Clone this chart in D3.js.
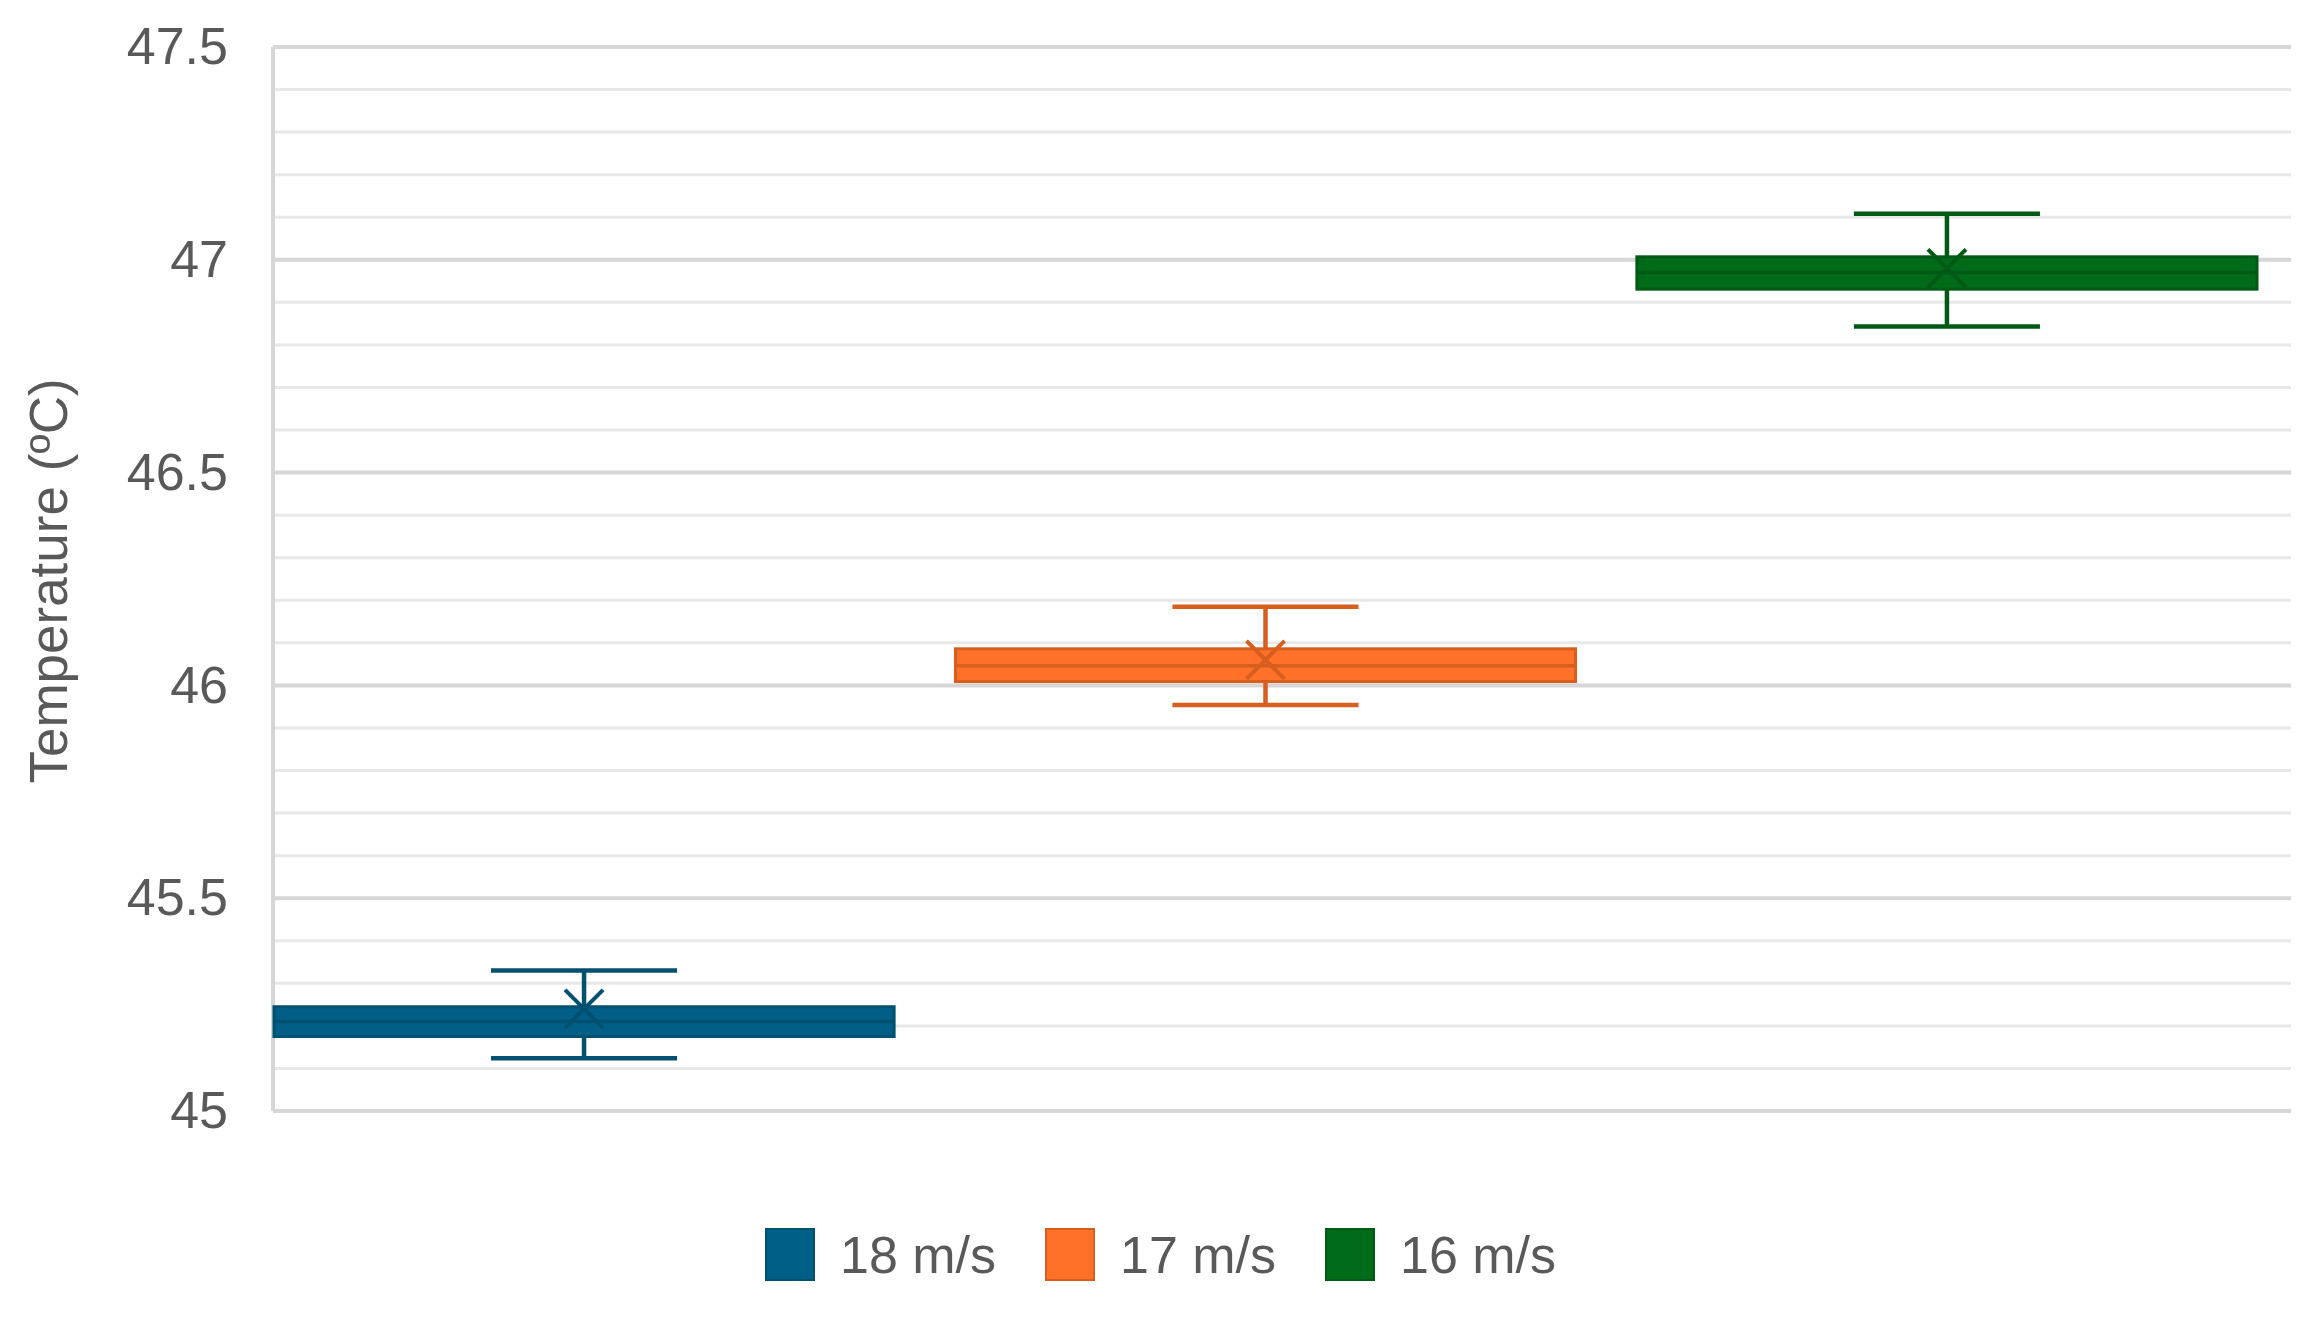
<!DOCTYPE html>
<html>
<head>
<meta charset="utf-8">
<script src="https://cdn.jsdelivr.net/npm/d3@7"></script>
<style>
  body { margin: 0; background: #fff; }
  svg { display: block; font-family: "Liberation Sans", Arial, sans-serif; }
</style>
</head>
<body>
<svg id="chart" width="2324" height="1323"></svg>
<script>
// series (one box each) and their five-number summaries
var series = ["18 m/s", "17 m/s", "16 m/s"];
var mins = [45.124, 45.954, 46.843];
var q1s = [45.175, 46.009, 46.931];
var medians = [45.21, 46.046, 46.97];
var q3s = [45.245, 46.086, 47.007];
var maxs = [45.33, 46.185, 47.108];
var means = [45.24, 46.06, 46.98];
var yTicks = [45, 45.5, 46, 46.5, 47, 47.5];

var fills = ["#005f86", "#ff7128", "#006b18"];
var strokes = ["#00516f", "#d65e1e", "#005a14"];

var svg = d3.select("#chart");
var plotLeft = 273, plotRight = 2291, plotTop = 47, plotBottom = 1111;

var y = d3.scaleLinear().domain([45, 47.5]).range([plotBottom, plotTop]);
var x = d3.scaleBand().domain(series).range([274, 2257]).paddingInner(0.09).paddingOuter(0);

//Minor gridlines every 0.1
svg.append("g").selectAll("line")
    .data(y.ticks(25).filter(function (d) { return yTicks.indexOf(+d.toFixed(1)) < 0; }))
    .enter().append("line")
    .attr("x1", plotLeft).attr("x2", plotRight)
    .attr("y1", function (d) { return y(d); }).attr("y2", function (d) { return y(d); })
    .attr("stroke", "#e8e8e8").attr("stroke-width", 3);

//Major gridlines
svg.append("g").selectAll("line")
    .data(yTicks)
    .enter().append("line")
    .attr("x1", plotLeft).attr("x2", plotRight)
    .attr("y1", function (d) { return y(d); }).attr("y2", function (d) { return y(d); })
    .attr("stroke", "#d6d6d6").attr("stroke-width", 4);

//Left axis line
svg.append("line")
    .attr("x1", plotLeft).attr("x2", plotLeft)
    .attr("y1", plotTop).attr("y2", plotBottom)
    .attr("stroke", "#d6d6d6").attr("stroke-width", 4);

//Y axis tick labels
var yAxis = svg.append("g")
    .attr("transform", "translate(" + (plotLeft - 45) + ",0)")
    .call(d3.axisLeft(y).tickValues(yTicks).tickSize(0).tickPadding(0).tickFormat(d3.format("")));
yAxis.select(".domain").remove();
yAxis.selectAll("text")
    .attr("font-size", 52)
    .attr("fill", "#595959")
    .attr("font-family", "'Liberation Sans', Arial, sans-serif");

//Axis title
svg.append("text")
    .attr("transform", "translate(48,581) rotate(-90)")
    .attr("text-anchor", "middle")
    .attr("dominant-baseline", "central")
    .attr("font-size", 53)
    .attr("fill", "#595959")
    .text("Temperature (ºC)");

//Boxes
var boxes = svg.append("g").selectAll("g")
    .data(series)
    .enter().append("g");

var capHalf = x.bandwidth() * 0.15;

boxes.append("line")
    .attr("x1", function (d) { return x(d) + x.bandwidth() / 2; })
    .attr("x2", function (d) { return x(d) + x.bandwidth() / 2; })
    .attr("y1", function (d, i) { return y(maxs[i]); })
    .attr("y2", function (d, i) { return y(mins[i]); })
    .attr("stroke", function (d, i) { return strokes[i]; })
    .attr("stroke-width", 4.5);

[mins, maxs].forEach(function (arr) {
    boxes.append("line")
        .attr("x1", function (d) { return x(d) + x.bandwidth() / 2 - capHalf; })
        .attr("x2", function (d) { return x(d) + x.bandwidth() / 2 + capHalf; })
        .attr("y1", function (d, i) { return y(arr[i]); })
        .attr("y2", function (d, i) { return y(arr[i]); })
        .attr("stroke", function (d, i) { return strokes[i]; })
        .attr("stroke-width", 4.5);
});

boxes.append("rect")
    .attr("x", function (d) { return x(d); })
    .attr("width", x.bandwidth())
    .attr("y", function (d, i) { return y(q3s[i]); })
    .attr("height", function (d, i) { return y(q1s[i]) - y(q3s[i]); })
    .attr("fill", function (d, i) { return fills[i]; })
    .attr("stroke", function (d, i) { return strokes[i]; })
    .attr("stroke-width", 3);

boxes.append("line")
    .attr("x1", function (d) { return x(d); })
    .attr("x2", function (d) { return x(d) + x.bandwidth(); })
    .attr("y1", function (d, i) { return y(medians[i]); })
    .attr("y2", function (d, i) { return y(medians[i]); })
    .attr("stroke", function (d, i) { return strokes[i]; })
    .attr("stroke-width", 3.5);

//Mean markers (X)
var m = 19;
boxes.append("path")
    .attr("d", function (d, i) {
        var cx = x(d) + x.bandwidth() / 2, cy = y(means[i]);
        return "M" + (cx - m) + "," + (cy - m) + "L" + (cx + m) + "," + (cy + m) +
            "M" + (cx - m) + "," + (cy + m) + "L" + (cx + m) + "," + (cy - m);
    })
    .attr("stroke", function (d, i) { return strokes[i]; })
    .attr("stroke-width", 4)
    .attr("fill", "none");

//Legend
var legend = svg.append("g").selectAll("g")
    .data(series)
    .enter().append("g")
    .attr("transform", function (d, i) { return "translate(" + (766 + i * 280) + ",1229)"; });

legend.append("rect")
    .attr("width", 48).attr("height", 51)
    .attr("fill", function (d, i) { return fills[i]; })
    .attr("stroke", function (d, i) { return strokes[i]; })
    .attr("stroke-width", 2);

legend.append("text")
    .attr("x", 74).attr("y", 26)
    .attr("dominant-baseline", "central")
    .attr("font-size", 52)
    .attr("fill", "#595959")
    .text(function (d) { return d; });
</script>
</body>
</html>
